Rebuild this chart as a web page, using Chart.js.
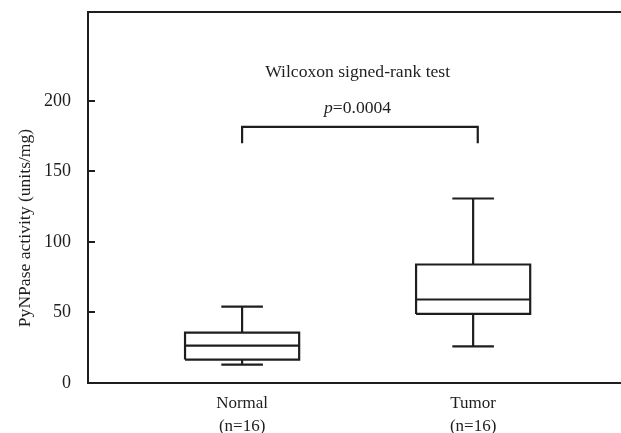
<!DOCTYPE html>
<html>
<head>
<meta charset="utf-8">
<script src="https://cdn.jsdelivr.net/npm/chart.js@4.4.1/dist/chart.umd.min.js"></script>
<style>
  html, body { margin: 0; padding: 0; background: #fff; }
  #wrap { width: 621px; height: 433px; }
</style>
</head>
<body>
<div id="wrap"><canvas id="c" width="621" height="433"></canvas></div>
<script>
// ---- data ----
const categories = ['Normal', 'Tumor'];
const sampleSizes = [16, 16];
const positions = [1, 2];
const whiskerLow = [13, 26];
const q1 = [16.6, 49];
const median = [26.5, 59.2];
const q3 = [35.7, 84];
const whiskerHigh = [54.2, 130.8];
const yTicks = [0, 50, 100, 150, 200];
const testName = 'Wilcoxon signed-rank test';
const pValue = '0.0004';
const bracketY = [170, 181.5];

const BOX_HALF = 0.247, CAP_HALF = 0.09;
const INK = '#1e1e1e';
const FONT = '"Liberation Serif", "Times New Roman", serif';

function boxSegments(i) {
  const x = positions[i];
  const pts = [];
  const seg = (arr) => { arr.forEach(p => pts.push({x: p[0], y: p[1]})); pts.push({x: x, y: null}); };
  seg([[x - BOX_HALF, q1[i]], [x + BOX_HALF, q1[i]], [x + BOX_HALF, q3[i]], [x - BOX_HALF, q3[i]], [x - BOX_HALF, q1[i]]]);
  seg([[x - BOX_HALF, median[i]], [x + BOX_HALF, median[i]]]);
  seg([[x, q3[i]], [x, whiskerHigh[i]]]);
  seg([[x, q1[i]], [x, whiskerLow[i]]]);
  seg([[x - CAP_HALF, whiskerHigh[i]], [x + CAP_HALF, whiskerHigh[i]]]);
  seg([[x - CAP_HALF, whiskerLow[i]], [x + CAP_HALF, whiskerLow[i]]]);
  return pts;
}

const datasets = categories.map((c, i) => ({
  label: c,
  data: boxSegments(i),
  showLine: true,
  spanGaps: false,
  borderColor: INK,
  borderWidth: 2.2,
  pointRadius: 0,
  fill: false,
  borderCapStyle: 'butt',
  borderJoinStyle: 'miter'
}));

datasets.push({
  label: 'bracket',
  data: [{x: positions[0], y: bracketY[0]}, {x: positions[0], y: bracketY[1]}, {x: 2.02, y: bracketY[1]}, {x: 2.02, y: bracketY[0]}],
  showLine: true,
  borderColor: INK,
  borderWidth: 2.2,
  pointRadius: 0,
  fill: false,
  borderCapStyle: 'butt',
  borderJoinStyle: 'miter'
});

const decor = {
  id: 'decor',
  afterDraw(chart) {
    const ctx = chart.ctx, a = chart.chartArea;
    const xs = chart.scales.x, ys = chart.scales.y;
    ctx.save();
    ctx.strokeStyle = INK;
    ctx.lineWidth = 2;
    ctx.beginPath();
    ctx.moveTo(a.left - 1, a.top);
    ctx.lineTo(a.right, a.top);
    ctx.stroke();
    yTicks.forEach(v => {
      const y = Math.round(ys.getPixelForValue(v));
      ctx.beginPath();
      ctx.moveTo(a.left, y);
      ctx.lineTo(a.left + 7, y);
      ctx.stroke();
    });
    ctx.fillStyle = INK;
    ctx.textAlign = 'center';
    ctx.textBaseline = 'middle';
    const F = '17.6px ' + FONT, FI = 'italic 17.6px ' + FONT;
    ctx.font = F;
    const cx = xs.getPixelForValue(1.5);
    ctx.fillText(testName, cx, ys.getPixelForValue(220.5));
    const yP = ys.getPixelForValue(195);
    ctx.font = FI;
    const wP = ctx.measureText('p').width;
    ctx.font = F;
    const rest = '=' + pValue;
    const wR = ctx.measureText(rest).width;
    const start = cx - (wP + wR) / 2;
    ctx.textAlign = 'left';
    ctx.font = FI;
    ctx.fillText('p', start, yP);
    ctx.font = F;
    ctx.fillText(rest, start + wP, yP);
    ctx.translate(25, 228);
    ctx.rotate(-Math.PI / 2);
    ctx.textAlign = 'center';
    ctx.fillText('PyNPase activity (units/mg)', 0, 0);
    ctx.restore();
  }
};

new Chart(document.getElementById('c'), {
  type: 'scatter',
  data: { datasets },
  options: {
    responsive: false,
    animation: false,
    layout: { padding: { top: 12, right: 0, left: 0, bottom: 0 } },
    plugins: { legend: { display: false }, tooltip: { enabled: false } },
    scales: {
      x: {
        type: 'linear',
        min: 0.333,
        max: 2.64,
        afterBuildTicks(scale) { scale.ticks = positions.map(v => ({ value: v })); },
        afterFit(scale) { scale.height = 50; scale.paddingLeft = 0; scale.paddingRight = 0; },
        ticks: {
          autoSkip: false,
          maxRotation: 0,
          padding: 9,
          color: INK,
          font: { family: FONT, size: 17, lineHeight: 1.35 },
          callback(v) {
            const i = positions.indexOf(v);
            return i >= 0 ? [categories[i], '(n=' + sampleSizes[i] + ')'] : '';
          }
        },
        grid: { display: false, drawTicks: false },
        border: { display: true, color: INK, width: 2 }
      },
      y: {
        type: 'linear',
        min: 0,
        max: 263,
        afterBuildTicks(scale) { scale.ticks = yTicks.map(v => ({ value: v })); },
        afterFit(scale) { scale.width = 88; scale.paddingTop = 0; scale.paddingBottom = 0; },
        ticks: {
          padding: 17,
          color: INK,
          font: { family: FONT, size: 18 }
        },
        grid: { display: false, drawTicks: false },
        border: { display: true, color: INK, width: 2 }
      }
    }
  },
  plugins: [decor]
});
</script>
</body>
</html>
